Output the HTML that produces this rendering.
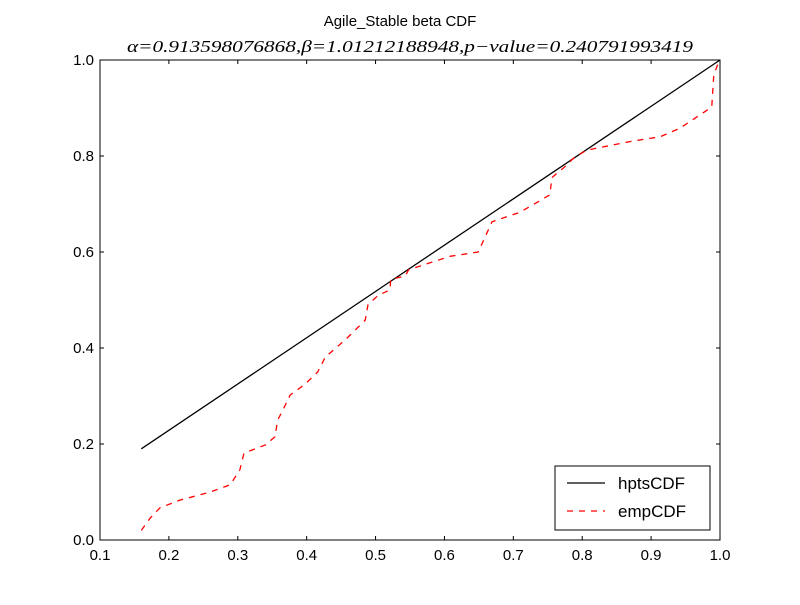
<!DOCTYPE html>
<html><head><meta charset="utf-8"><style>body{margin:0;background:#fff}svg text{font-family:"Liberation Sans",sans-serif}svg text.math{font-family:"Liberation Serif",serif;font-style:italic}</style></head>
<body>
<svg id="c" width="800" height="600" xmlns="http://www.w3.org/2000/svg">
<rect width="800" height="600" fill="#fff"/>
<text x="400" y="26" font-size="15" text-anchor="middle">Agile_Stable beta CDF</text>
<text class="math" x="410" y="52" font-size="17" text-anchor="middle" textLength="566" lengthAdjust="spacingAndGlyphs">α=0.913598076868,β=1.01212188948,p−value=0.240791993419</text>
<g id="plot"></g>
</svg>
<script>
const xTicks=[0.1,0.2,0.3,0.4,0.5,0.6,0.7,0.8,0.9,1.0];
const yTicks=[0.0,0.2,0.4,0.6,0.8,1.0];
const hptsX=[0.16,1.0];
const hptsY=[0.19,1.0];
const empX=[0.16,0.173,0.187,0.216,0.26,0.289,0.303,0.309,0.34,0.354,0.358,0.369,0.376,0.398,0.416,0.427,0.456,0.485,0.489,0.504,0.521,0.522,0.543,0.548,0.608,0.649,0.657,0.669,0.71,0.753,0.756,0.775,0.787,0.806,0.869,0.913,0.942,0.988,0.991,0.998,1.0];
const empY=[0.02,0.046,0.067,0.083,0.10,0.115,0.146,0.181,0.198,0.215,0.25,0.281,0.302,0.325,0.35,0.381,0.417,0.458,0.49,0.51,0.521,0.543,0.55,0.563,0.591,0.6,0.625,0.663,0.683,0.719,0.755,0.778,0.795,0.812,0.83,0.84,0.858,0.902,0.969,0.996,1.0];
const L=100,R=720,T=60,B=540;
const sx=v=>L+(v-0.1)/0.9*(R-L), sy=v=>B-v*(B-T);
const g=document.getElementById('plot');const NS='http://www.w3.org/2000/svg';
function mk(t,a){const e=document.createElementNS(NS,t);for(const k in a)e.setAttribute(k,a[k]);g.appendChild(e);return e;}
let e=mk('polyline',{points:hptsX.map((x,i)=>sx(x)+','+sy(hptsY[i])).join(' '),fill:'none',stroke:'#000','stroke-width':1.3});


e=mk('polyline',{points:empX.map((x,i)=>sx(x)+','+sy(empY[i])).join(' '),fill:'none',stroke:'#f00','stroke-width':1.3,'stroke-dasharray':'6,6'});


e=mk('rect',{x:L,y:T,width:R-L,height:B-T,fill:'none',stroke:'#000','stroke-width':1});


xTicks.forEach(v=>{const x=sx(v);
 mk('line',{x1:x,x2:x,y1:B,y2:B-4,stroke:'#000'});mk('line',{x1:x,x2:x,y1:T,y2:T+4,stroke:'#000'});
 const t=mk('text',{x:x,y:B+20,'font-size':15,'text-anchor':'middle'});t.textContent=v.toFixed(1);
 
 });
yTicks.forEach(v=>{const y=sy(v);
 mk('line',{x1:L,x2:L+4,y1:y,y2:y,stroke:'#000'});mk('line',{x1:R,x2:R-4,y1:y,y2:y,stroke:'#000'});
 const t=mk('text',{x:L-6,y:y+5,'font-size':15,'text-anchor':'end'});t.textContent=v.toFixed(1);
 
 });
e=mk('rect',{x:555,y:466,width:155,height:64,fill:'#fff',stroke:'#000'});


mk('line',{x1:567,x2:605,y1:483,y2:483,stroke:'#000','stroke-width':1.3});
mk('line',{x1:567,x2:605,y1:511,y2:511,stroke:'#f00','stroke-width':1.3,'stroke-dasharray':'6,6'});
e=mk('text',{x:618,y:489,'font-size':17});e.textContent='hptsCDF';


e=mk('text',{x:618,y:517,'font-size':17});e.textContent='empCDF';


</script>
</body></html>
